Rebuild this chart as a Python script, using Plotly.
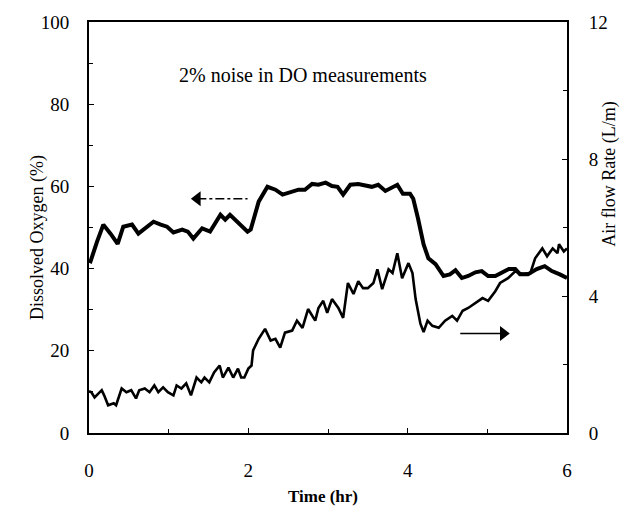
import plotly.graph_objects as go

# Dissolved oxygen (left axis, %) versus time (hr)
do_time = [0.00, 0.02, 0.10, 0.18, 0.27, 0.36, 0.43, 0.54, 0.62, 0.73, 0.81, 0.90, 0.98,
           1.06, 1.17, 1.24, 1.31, 1.42, 1.52, 1.65, 1.71, 1.77, 1.90, 1.99, 2.03, 2.13,
           2.24, 2.34, 2.43, 2.53, 2.63, 2.71, 2.80, 2.88, 2.97, 3.05, 3.12, 3.19, 3.28,
           3.38, 3.47, 3.55, 3.63, 3.72, 3.87, 3.94, 4.03, 4.07, 4.13, 4.20, 4.26, 4.35,
           4.45, 4.53, 4.60, 4.68, 4.76, 4.85, 4.93, 5.01, 5.10, 5.18, 5.27, 5.35, 5.41,
           5.51, 5.62, 5.72, 5.81, 5.91, 6.00]
do_pct = [42.0, 41.8, 46.5, 50.7, 48.5, 46.0, 50.2, 50.7, 48.5, 50.2, 51.4, 50.7, 50.2,
          48.8, 49.5, 49.0, 47.3, 49.8, 49.0, 53.1, 51.9, 53.1, 50.7, 49.0, 49.5, 56.3,
          59.9, 59.2, 58.0, 58.7, 59.2, 59.2, 60.6, 60.4, 60.9, 60.1, 59.9, 58.0, 60.4,
          60.6, 60.1, 59.9, 60.4, 58.9, 60.4, 58.2, 58.2, 57.0, 52.2, 45.9, 42.5, 41.1,
          38.2, 38.6, 39.6, 37.7, 38.2, 39.1, 39.4, 38.2, 38.2, 39.1, 39.9, 39.9, 38.6,
          38.6, 39.9, 40.6, 39.4, 38.6, 37.7]

# Air flow rate (right axis, L/m) versus time (hr)
air_time = [0.00, 0.03, 0.07, 0.16, 0.19, 0.24, 0.31, 0.34, 0.41, 0.47, 0.53, 0.59, 0.63,
            0.70, 0.76, 0.82, 0.87, 0.93, 0.99, 1.06, 1.10, 1.16, 1.22, 1.28, 1.35, 1.41,
            1.45, 1.51, 1.57, 1.64, 1.68, 1.75, 1.81, 1.87, 1.91, 1.95, 2.00, 2.04, 2.06,
            2.13, 2.21, 2.28, 2.34, 2.40, 2.46, 2.55, 2.61, 2.68, 2.75, 2.84, 2.88, 2.94,
            2.99, 3.05, 3.13, 3.19, 3.25, 3.32, 3.38, 3.44, 3.50, 3.57, 3.62, 3.68, 3.76,
            3.81, 3.87, 3.93, 4.01, 4.06, 4.10, 4.16, 4.20, 4.25, 4.31, 4.39, 4.47, 4.56,
            4.62, 4.69, 4.76, 4.85, 4.94, 5.01, 5.10, 5.16, 5.26, 5.35, 5.44, 5.54, 5.60,
            5.69, 5.75, 5.82, 5.88, 5.90, 5.96, 6.00]
air_lpm = [1.22, 1.19, 1.04, 1.25, 1.10, 0.81, 0.87, 0.81, 1.30, 1.19, 1.25, 1.01, 1.25,
           1.30, 1.19, 1.39, 1.19, 1.33, 1.19, 1.10, 1.39, 1.30, 1.45, 1.10, 1.62, 1.48,
           1.62, 1.48, 1.77, 1.97, 1.62, 1.91, 1.62, 1.88, 1.62, 1.62, 1.88, 1.97, 2.41,
           2.75, 3.04, 2.70, 2.75, 2.49, 2.93, 2.99, 3.28, 3.07, 3.62, 3.28, 3.65, 3.86,
           3.51, 3.91, 3.65, 3.36, 4.38, 4.06, 4.43, 4.23, 4.23, 4.38, 4.78, 4.20, 4.78,
           4.67, 5.25, 4.52, 4.96, 4.67, 3.91, 3.19, 2.95, 3.28, 3.13, 3.07, 3.28, 3.42,
           3.28, 3.57, 3.65, 3.80, 3.94, 3.86, 4.14, 4.38, 4.52, 4.72, 4.64, 4.67, 5.10,
           5.39, 5.16, 5.39, 5.25, 5.51, 5.30, 5.39]

x_ticks = [0, 2, 4, 6]
do_ticks = [0, 20, 40, 60, 80, 100]
air_ticks = [0, 4, 8, 12]

# Pointer arrows telling which curve belongs to which axis
do_arrow_x = [1.36, 1.99]
do_arrow_y = 57.0
air_arrow_x = [4.66, 5.20]
air_arrow_y = 24.2

SERIF = "Liberation Serif, Times New Roman, serif"
BLACK = "#000000"

fig = go.Figure()

fig.add_trace(go.Scatter(x=do_time, y=do_pct, mode="lines",
                         line=dict(color=BLACK, width=4.0), yaxis="y",
                         showlegend=False, hoverinfo="skip"))
fig.add_trace(go.Scatter(x=air_time, y=air_lpm, mode="lines",
                         line=dict(color=BLACK, width=2.6), yaxis="y2",
                         showlegend=False, hoverinfo="skip"))

# left-pointing dash-dot arrow toward the DO axis
fig.add_trace(go.Scatter(x=do_arrow_x, y=[do_arrow_y, do_arrow_y], mode="lines",
                         line=dict(color=BLACK, width=1.5, dash="dashdot"),
                         showlegend=False, hoverinfo="skip"))
fig.add_trace(go.Scatter(x=[do_arrow_x[0]], y=[do_arrow_y], mode="markers",
                         marker=dict(symbol="triangle-left", size=13, color=BLACK),
                         showlegend=False, hoverinfo="skip"))

# right-pointing solid arrow toward the air flow axis
fig.add_trace(go.Scatter(x=air_arrow_x, y=[air_arrow_y, air_arrow_y], mode="lines",
                         line=dict(color=BLACK, width=1.6),
                         showlegend=False, hoverinfo="skip"))
fig.add_trace(go.Scatter(x=[air_arrow_x[1]], y=[air_arrow_y], mode="markers",
                         marker=dict(symbol="triangle-right", size=13, color=BLACK),
                         showlegend=False, hoverinfo="skip"))

axis_font = dict(family=SERIF, size=19, color=BLACK)

fig.update_layout(
    width=636, height=512,
    margin=dict(l=89, r=69, t=19, b=79),
    paper_bgcolor="white", plot_bgcolor="white",
    xaxis=dict(range=[0, 6], tickvals=x_ticks, ticks="inside", ticklen=5,
               tickwidth=1, tickcolor=BLACK, showline=True, linecolor=BLACK,
               linewidth=2, mirror=True, showgrid=False, zeroline=False,
               tickfont=axis_font, ticklabelstandoff=19,
               minor=dict(dtick=1, tick0=0, ticks="inside", ticklen=4,
                          tickcolor=BLACK, showgrid=False)),
    yaxis=dict(range=[0, 100], tickvals=do_ticks, ticks="inside", ticklen=5,
               tickwidth=1, tickcolor=BLACK, showline=True, linecolor=BLACK,
               linewidth=2, showgrid=False, zeroline=False, tickfont=axis_font,
               ticklabelstandoff=14,
               minor=dict(dtick=10, tick0=0, ticks="inside", ticklen=4,
                          tickcolor=BLACK, showgrid=False)),
    yaxis2=dict(range=[0, 12], tickvals=air_ticks, ticks="inside", ticklen=5,
                tickwidth=1, tickcolor=BLACK, showline=True, linecolor=BLACK,
                linewidth=2, showgrid=False, zeroline=False, tickfont=axis_font,
                overlaying="y", side="right", ticklabelstandoff=16,
                minor=dict(dtick=2, tick0=0, ticks="inside", ticklen=4,
                           tickcolor=BLACK, showgrid=False)),
    annotations=[
        dict(text="2% noise in DO measurements", x=2.68, y=87, xref="x", yref="y",
             showarrow=False, font=dict(family=SERIF, size=20, color=BLACK)),
        dict(text="<b>Time (hr)</b>", x=0.5, y=0, xref="paper", yref="paper",
             xshift=-5, yshift=-75, showarrow=False,
             font=dict(family=SERIF, size=17, color=BLACK)),
        dict(text="Dissolved Oxygen (%)", x=0, y=0.5, xref="paper", yref="paper",
             xshift=-64, yshift=-10, textangle=-90, showarrow=False,
             font=dict(family=SERIF, size=18, color=BLACK)),
        dict(text="Air flow Rate (L/m)", x=1, y=0.62, xref="paper", yref="paper",
             xshift=55, yshift=4, textangle=-90, showarrow=False,
             font=dict(family=SERIF, size=18, color=BLACK)),
    ],
)

fig.write_html("out.html")
